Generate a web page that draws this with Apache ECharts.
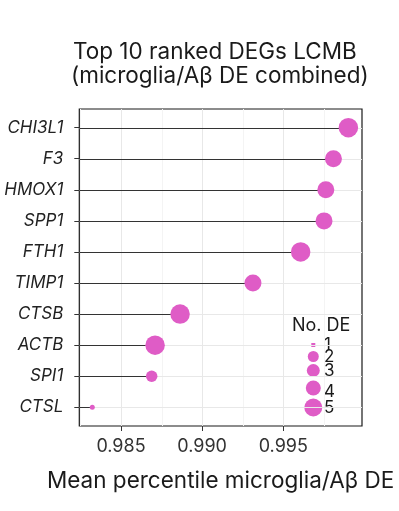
<!DOCTYPE html>
<html><head><meta charset="utf-8">
<script src="https://cdn.jsdelivr.net/npm/echarts@6/dist/echarts.min.js"></script>
<style>html,body{margin:0;padding:0;background:#fff}#c{width:399px;height:511px}</style>
</head><body><div id="c"></div>
<script>
const genes = ['CHI3L1','F3','HMOX1','SPP1','FTH1','TIMP1','CTSB','ACTB','SPI1','CTSL'];
const meanPercentile = [0.99901,0.99809,0.99762,0.99751,0.99607,0.99313,0.98864,0.98710,0.98689,0.98323];
const noDE = [5,4,4,4,5,4,5,5,2,1];
const xTicks = [0.985,0.990,0.995];
const xMinor = [0.9825,0.9875,0.9925,0.9975];
const legendLevels = [1,2,3,4,5];

const XMIN = 0.98243, XMAX = 0.99985;
const PINK = '#DF5CC6';
const FONT = 'Inter';
const sizeMap = {1:5,2:11.5,3:14.5,4:17,5:19.5};
const legendSize = {1:4,2:11,3:13,4:15,5:18};

const yIdx = genes.map((g,i)=>i+1);
const pts = genes.map((g,i)=>[meanPercentile[i], i+1, noDE[i]]);

// gridline data: [value, orientation(0=vertical,1=horizontal), major(1)/minor(0)]
const gridData = [];
xMinor.forEach(v=>gridData.push([v, 0, 0]));
xTicks.forEach(v=>gridData.push([v, 0, 1]));
yIdx.forEach(v=>gridData.push([v, 1, 1]));

const chart = echarts.init(document.getElementById('c'), null, {renderer:'canvas'});

const legendGraphic = [{type:'text', left:292, top:317, style:{text:'No. DE', font:'18px '+FONT, fill:'#1a1a1a'}}];
const legendY = {1:345,2:356.5,3:370.5,4:388,5:407.5};
const labelY = {1:344.5,2:357,3:371,4:391.5,5:408};
legendLevels.forEach(n=>{
  const s = legendSize[n];
  if(n===1){
    legendGraphic.push({type:'rect', shape:{x:313.3-s/2,y:legendY[n]-s/2,width:s,height:s}, style:{fill:PINK}});
  } else {
    legendGraphic.push({type:'circle', shape:{cx:313.3,cy:legendY[n],r:s/2}, style:{fill:PINK}});
  }
  legendGraphic.push({type:'text', x:324, y:labelY[n], style:{text:String(n), font:'17px '+FONT, fill:'#1a1a1a', verticalAlign:'middle', align:'left'}});
});

chart.setOption({
  animation:false,
  backgroundColor:'#fff',
  grid:{left:79.3, right:37, top:109, bottom:85, show:true, borderColor:'#1a1a1a', borderWidth:1.2, backgroundColor:'#fff'},
  xAxis:{type:'value', min:XMIN, max:XMAX,
    axisLine:{show:false},
    axisTick:{show:true, customValues:xTicks, length:5, lineStyle:{color:'#333', width:1}},
    axisLabel:{customValues:xTicks, formatter:v=>v.toFixed(3), fontFamily:FONT, fontSize:18, color:'#333', margin:12},
    splitLine:{show:false},
    name:'Mean percentile microglia/Aβ DE', nameLocation:'middle', nameGap:44,
    nameTextStyle:{fontFamily:FONT, fontSize:22.5, color:'#1a1a1a'}
  },
  yAxis:{type:'value', min:0.4, max:10.6, inverse:true,
    axisLine:{show:false},
    axisTick:{show:true, customValues:yIdx, length:5, lineStyle:{color:'#333', width:1}},
    axisLabel:{customValues:yIdx, formatter:v=>genes[Math.round(v)-1]||'', fontFamily:FONT, fontSize:17, fontStyle:'italic', color:'#222', margin:16},
    splitLine:{show:false}
  },
  graphic:[
    {type:'text', x:73, y:52, style:{text:'Top 10 ranked DEGs LCMB', font:'22.5px '+FONT, fill:'#1a1a1a', align:'left', verticalAlign:'middle'}},
    {type:'text', x:71, y:76, style:{text:'(microglia/Aβ DE combined)', font:'22.5px '+FONT, fill:'#1a1a1a', align:'left', verticalAlign:'middle'}},
    ...legendGraphic
  ],
  series:[
    {type:'custom', z:1, silent:true, data:gridData, clip:true,
     renderItem:(params, api)=>{
       const cs = params.coordSys;
       const v = api.value(0), o = api.value(1), major = api.value(2);
       const col = major ? '#E8E8E8' : '#F4F4F4';
       if(o===0){
         const p = api.coord([v, 1]);
         const x = Math.round(p[0])+0.5;
         return {type:'line', shape:{x1:x, y1:cs.y, x2:x, y2:cs.y+cs.height}, style:{stroke:col, lineWidth:1}};
       } else {
         const p = api.coord([XMIN, v]);
         const y = Math.round(p[1])+0.5;
         return {type:'line', shape:{x1:cs.x, y1:y, x2:cs.x+cs.width, y2:y}, style:{stroke:col, lineWidth:1}};
       }
     }},
    {type:'custom', z:2, silent:true, data:pts, clip:true,
     renderItem:(params, api)=>{
       const a = api.coord([XMIN, api.value(1)]);
       const b = api.coord([api.value(0), api.value(1)]);
       const y = Math.round(a[1])+0.5;
       return {type:'line', shape:{x1:a[0], y1:y, x2:b[0], y2:y}, style:{stroke:'#333', lineWidth:1}};
     }},
    {type:'scatter', z:3, data:pts, symbol:'circle',
     symbolSize:(v)=>sizeMap[v[2]],
     itemStyle:{color:PINK, opacity:1}}
  ]
});
</script></body></html>
